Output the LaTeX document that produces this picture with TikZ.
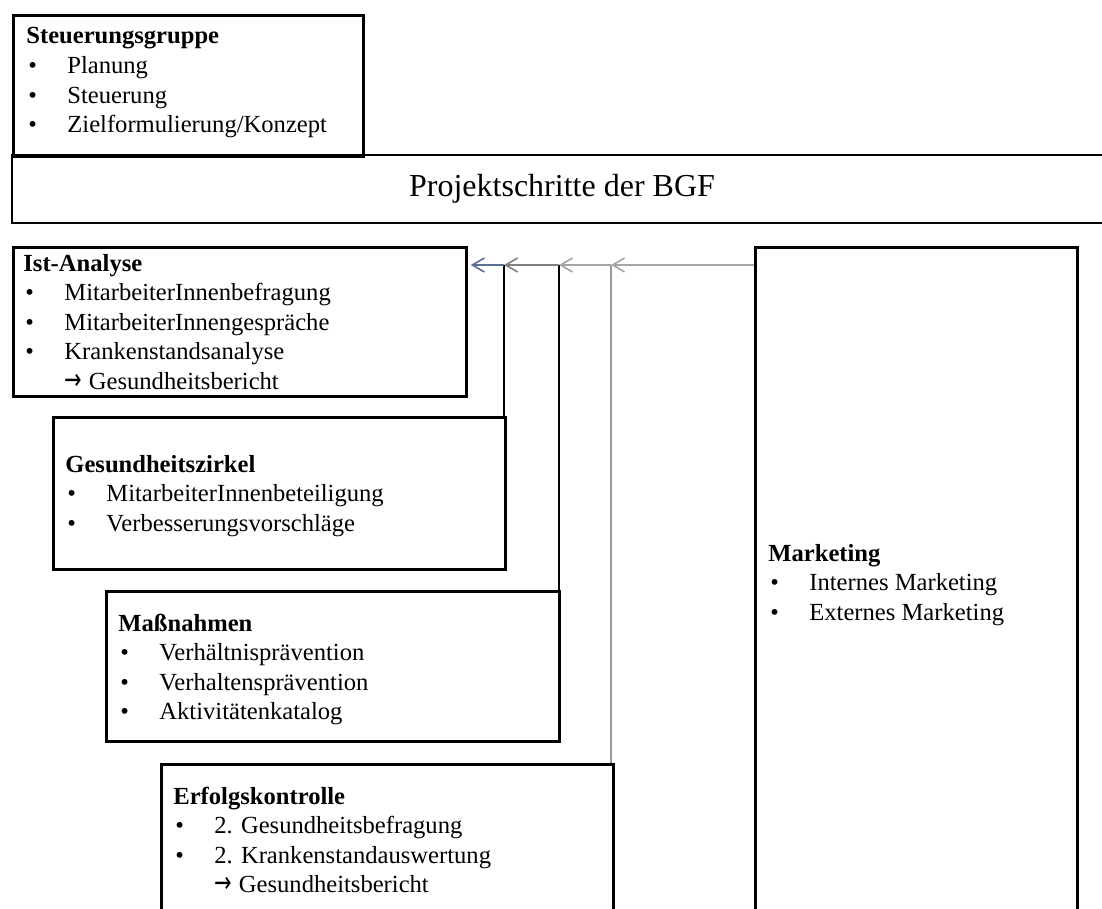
\documentclass[tikz,border=0pt]{standalone}
\usepackage{graphicx}
\usepackage{fontspec}
\setmainfont{Liberation Serif}
\newfontfamily\arrowfont{DejaVu Sans}
\usetikzlibrary{arrows.meta}
\newcommand\bpt{\makebox[20.5pt][l]{\hspace{1pt}•}}
\newcommand\rarr{\hspace{20.5pt}\scalebox{0.72}[1.0]{\arrowfont\fontsize{14.5}{15}\selectfont →}\hspace{3.5pt}}
\definecolor{linkblue}{RGB}{90,110,150}
\definecolor{linkgray}{RGB}{165,165,165}
\begin{document}
\begin{tikzpicture}[x=0.5pt,y=-0.5pt,
  box/.style={draw, line width=1.4pt, inner sep=0pt, anchor=north west},
  txt/.style={anchor=base west, inner sep=0pt, font=\fontsize{12.3}{14.8}\selectfont},
  conn/.style={line width=0.8pt, draw=linkgray},
  vline/.style={line width=0.8pt, draw=black},
  tip/.style={-{Straight Barb[length=6pt,width=7pt]}}
]
\useasboundingbox (0,0) rectangle (1102,909);
\clip (0,0) rectangle (1102,909);

% boxes
\node[box, minimum width=175pt, minimum height=70.5pt] (sg) at (12,14) {};
\node[draw, line width=1.4pt, inner sep=0pt, minimum width=550pt, minimum height=34pt,
      font=\fontsize{16}{19}\selectfont] (bgf) at (562,189) {Projektschritte der BGF};
\node[box, minimum width=226.5pt, minimum height=74.5pt] (ia) at (12,246) {};
\node[box, minimum width=226pt, minimum height=76pt] (gz) at (52,416) {};
\node[box, minimum width=226.5pt, minimum height=75pt] (mn) at (105,590) {};
\node[box, minimum width=226pt, minimum height=83.5pt] (ek) at (160,763) {};
\node[box, minimum width=161pt, minimum height=342pt] (mk) at (754,246) {};

% texts
\node[txt] (sgt) at (26,44) {\begin{tabular}[t]{@{}l@{}}\textbf{Steuerungsgruppe}\\
  \bpt Planung\\ \bpt Steuerung\\ \bpt Zielformulierung/Konzept\end{tabular}};
\node[txt] (iat) at (23,271) {\begin{tabular}[t]{@{}l@{}}\textbf{Ist-Analyse}\\
  \bpt MitarbeiterInnenbefragung\\ \bpt MitarbeiterInnengespräche\\
  \bpt Krankenstandsanalyse\\ \rarr Gesundheitsbericht\end{tabular}};
\node[txt] (gzt) at (65,472) {\begin{tabular}[t]{@{}l@{}}\textbf{Gesundheitszirkel}\\
  \bpt MitarbeiterInnenbeteiligung\\ \bpt Verbesserungsvorschläge\end{tabular}};
\node[txt] (mnt) at (118,631) {\begin{tabular}[t]{@{}l@{}}\textbf{Maßnahmen}\\
  \bpt Verhältnisprävention\\ \bpt Verhaltensprävention\\ \bpt Aktivitätenkatalog\end{tabular}};
\node[txt] (ekt) at (173,804) {\begin{tabular}[t]{@{}l@{}}\textbf{Erfolgskontrolle}\\
  \bpt 2. Gesundheitsbefragung\\ \bpt 2. Krankenstandauswertung\\
  \rarr Gesundheitsbericht\end{tabular}};
\node[txt] (mkt) at (768,561) {\begin{tabular}[t]{@{}l@{}}\textbf{Marketing}\\
  \bpt Internes Marketing\\ \bpt Externes Marketing\end{tabular}};

% connectors
\coordinate (j1) at (504,265);
\coordinate (j2) at (559,265);
\coordinate (j3) at (611,265);
\draw[conn, tip] (mk.west |- j3) -- (j3);
\draw[line width=0.8pt, draw=gray!80] (j3 |- ek.north) -- (j3);
\draw[conn, tip] (j3) -- (j2);
\draw[vline] (j2 |- mn.north) -- (j2);
\draw[conn, draw=gray, tip] (j2) -- (j1);
\draw[vline] (j1 |- gz.north) -- (j1);
\draw[line width=0.8pt, draw=linkblue, tip, shorten >=1.5pt] (j1) -- (ia.east |- j1);
\end{tikzpicture}
\end{document}
